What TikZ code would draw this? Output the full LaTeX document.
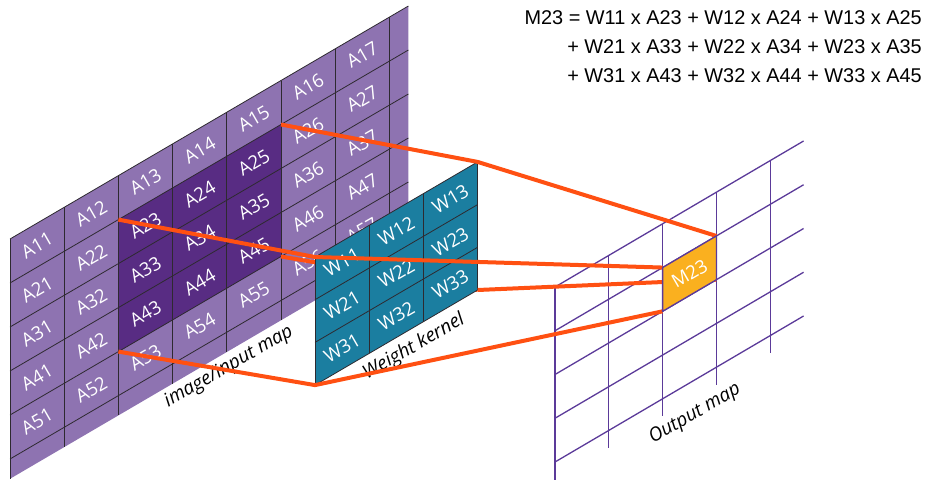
\documentclass[tikz,border=0pt]{standalone}
\usepackage{fontspec}
\setmainfont{Open Sans}
\newfontfamily\eqfont{Liberation Sans}
\usetikzlibrary{calc}

\definecolor{mapLight}{HTML}{8E73B1}
\definecolor{mapDark}{HTML}{582C83}
\definecolor{kernTeal}{HTML}{1B7EA0}
\definecolor{linkOrange}{HTML}{FF5012}
\definecolor{outFill}{HTML}{FAB01F}
\definecolor{outLine}{HTML}{5B3A99}
\definecolor{gridInk}{HTML}{2E2A30}

\begin{document}
\begin{tikzpicture}[x=1pt,y=-1pt,
  declare function={
    inX(\c)=10+54.2*\c;      inY(\c,\r)=239-31.7*\c+44*\r;
    kX(\c)=315+54.2*\c;      kY(\c,\r)=257-31.7*\c+42.7*\r;
    oX(\c)=555+53.8*\c;      oY(\c,\r)=287-31.6*\c+43.75*\r;
  },
  gridline/.style={draw=gridInk, line width=0.8pt},
  outgrid/.style={draw=outLine, line width=1.3pt},
  link/.style={draw=linkOrange, line width=4pt, line join=round},
  celltext/.style={text=white, font=\fontsize{18.5}{18.5}\selectfont, rotate=30, inner sep=0pt},
  caption/.style={text=black, font=\fontsize{19}{19}\selectfont\itshape, rotate=30, inner sep=0pt},
  eqline/.style={anchor=base east, inner sep=0pt, font=\eqfont\fontsize{19.9}{19.9}\selectfont},
]
\useasboundingbox (0,0) rectangle (926,483);

% ---------- input map ----------
\fill[mapLight] ({inX(0)},{inY(0,0)}) -- ({inX(7.35)},{inY(7.35,0)})
  -- ({inX(7.35)},{inY(7.35,5.45)}) -- ({inX(0)},{inY(0,5.45)}) -- cycle;
\fill[mapDark] ({inX(2)},{inY(2,1)}) -- ({inX(5)},{inY(5,1)})
  -- ({inX(5)},{inY(5,4)}) -- ({inX(2)},{inY(2,4)}) -- cycle;
\foreach \c in {0,...,7}
  \draw[gridline] ({inX(\c)},{inY(\c,0)}) -- ({inX(\c)},{inY(\c,5.45)});
\foreach \r in {0,...,5}
  \draw[gridline] ({inX(0)},{inY(0,\r)}) -- ({inX(7.35)},{inY(7.35,\r)});
\foreach \r in {1,...,5}
  \foreach \c in {1,...,7}
    \node[celltext] (a\r\c) at ({inX(\c-0.5)},{inY(\c-0.5,\r-0.5)}) {A\r\c};

% corners of the receptive field
\coordinate (inTL) at ({inX(2)},{inY(2,1)});
\coordinate (inTR) at ({inX(5)},{inY(5,1)});
\coordinate (inBL) at ({inX(2)},{inY(2,4)});
\coordinate (inBR) at ({inX(5)},{inY(5,4)});

% ---------- kernel ----------
\coordinate (kTL) at ({kX(0)},{kY(0,0)});
\coordinate (kTR) at ({kX(3)},{kY(3,0)});
\coordinate (kBL) at ({kX(0)},{kY(0,3)});
\coordinate (kBR) at ({kX(3)},{kY(3,3)});

% link running behind the kernel
\draw[link] (inBR) -- (kBR);

\fill[kernTeal] (kTL) -- (kTR) -- (kBR) -- (kBL) -- cycle;
\foreach \c in {0,...,3}
  \draw[gridline] ({kX(\c)},{kY(\c,0)}) -- ({kX(\c)},{kY(\c,3)});
\foreach \r in {0,...,3}
  \draw[gridline] ({kX(0)},{kY(0,\r)}) -- ({kX(3)},{kY(3,\r)});
\foreach \r in {1,...,3}
  \foreach \c in {1,...,3}
    \node[celltext] (w\r\c) at ({kX(\c-0.5)},{kY(\c-0.5,\r-0.5)}) {W\r\c};

% captions
\node[caption] (inCap) at (229,367) {image/input map};
\node[caption] (kCap) at (414,347) {Weight kernel};

% ---------- output map ----------
\foreach \r in {0,...,4}
  \draw[outgrid] ({oX(0)},{oY(0,\r)}) -- ({oX(4.62)},{oY(4.62,\r)});
\foreach \c in {0,...,4}
  \draw[outgrid] ({oX(\c)},{oY(\c,0)}) -- ({oX(\c)},{oY(\c,4.4)});

\coordinate (oTL) at ({oX(2)},{oY(2,1)});
\coordinate (oTR) at ({oX(3)},{oY(3,1)});
\coordinate (oBL) at ({oX(2)},{oY(2,2)});
\coordinate (oBR) at ({oX(3)},{oY(3,2)});

% links from input field through kernel to output cell
\draw[link] (inTR) -- (kTR) -- (oTR);
\draw[link] (inTL) -- (kTL) -- (oTL);
\draw[link] (inBL) -- (kBL) -- (oBL);
\draw[link] (kBR) -- (oBR);

\filldraw[fill=outFill, outgrid] (oTL) -- (oTR) -- (oBR) -- (oBL) -- cycle;
\node[celltext] (m23) at ({oX(2.5)},{oY(2.5,1.5)}) {M23};

\node[caption] (oCap) at (695,414) {Output map};

% ---------- equation ----------
\node[eqline] (eq1) at (922,24.5) {M23 = W11 x A23 + W12 x A24 + W13 x A25};
\node[eqline] (eq2) at (922,53.5) {+ W21 x A33 + W22 x A34 + W23 x A35};
\node[eqline] (eq3) at (922,82) {+ W31 x A43 + W32 x A44 + W33 x A45};
\end{tikzpicture}
\end{document}
